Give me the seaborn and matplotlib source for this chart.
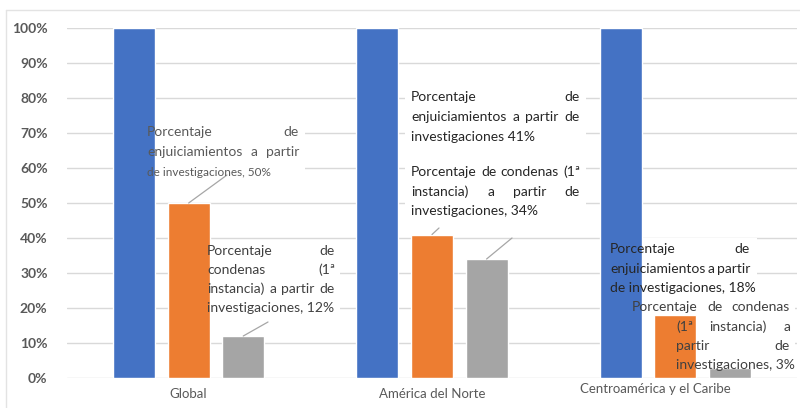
import pandas as pd
import matplotlib.pyplot as plt
import seaborn as sns
from matplotlib.transforms import ScaledTranslation

# Datos
categorias = ['Global', 'América del Norte', 'Centroamérica y el Caribe']
series = ['Investigaciones', 'Enjuiciamientos', 'Condenas']
investigaciones = [100, 100, 100]
enjuiciamientos = [50, 41, 18]
condenas = [12, 34, 3]
colores = ['#4472C4', '#ED7D31', '#A5A5A5']
yticks = [0, 10, 20, 30, 40, 50, 60, 70, 80, 90, 100]

df = pd.DataFrame({
    'Categoria': categorias * 3,
    'Serie': [s for s in series for _ in categorias],
    'Valor': [v / 100 for v in investigaciones + enjuiciamientos + condenas],
})

W, H = 800, 408
sns.set_style('white')
plt.rcParams['font.family'] = ['Lato', 'DejaVu Sans']

fig = plt.figure(figsize=(W / 100, H / 100), dpi=100)
ax = fig.add_axes([67 / W, 30 / H, 730 / W, 350 / H])

sns.barplot(data=df, x='Categoria', y='Valor', hue='Serie', palette=colores,
            saturation=1, width=0.673, gap=0.23, legend=False, ax=ax, zorder=3)

ax.set_ylim(0, 1)
ax.set_xlim(-0.5, 2.5)
ax.set_yticks([t / 100 for t in yticks])
ax.set_yticklabels([f'{t}%' for t in yticks], fontweight='bold', color='#595959', fontsize=10)
ax.yaxis.grid(True, color='#D9D9D9', lw=1, zorder=0)
ax.set_axisbelow(True)
ax.tick_params(axis='both', length=0)
ax.tick_params(axis='y', pad=14)
ax.tick_params(axis='x', pad=7, labelsize=9.5, labelcolor='#595959')
ax.set_xlabel('')
ax.set_ylabel('')
sns.despine(ax=ax, left=True, bottom=True)
lbl = ax.get_xticklabels()[2]
lbl.set_transform(lbl.get_transform() + ScaledTranslation(-20 / 100, 5 / 100, fig.dpi_scale_trans))

# Cajas blancas detras de las barras
cajas = [(140, 122, 305, 182), (200, 240, 340, 318), (405, 86, 586, 148),
         (405, 160, 586, 222), (603, 238, 757, 298), (625, 297, 795, 373)]
for x0, y0, x1, y1 in cajas:
    ax.add_patch(plt.Rectangle((x0, H - y1), x1 - x0, y1 - y0, transform=None,
                               fc='white', ec='none', zorder=1))

renderer = fig.canvas.get_renderer()


def justificado(lineas, xs, x1, ys, size=10, color='#404040', ultima=None):
    for i, (linea, x0, y) in enumerate(zip(lineas, xs, ys)):
        palabras = linea.split()
        if i == len(lineas) - 1 or len(palabras) == 1:
            fig.text(x0 / W, 1 - y / H, linea, va='center', ha='left',
                     fontsize=ultima or size, color=color, zorder=5)
            continue
        objs = [fig.text(0, 0, p, fontsize=size) for p in palabras]
        anchos = [o.get_window_extent(renderer).width for o in objs]
        for o in objs:
            o.remove()
        hueco = (x1 - x0 - sum(anchos)) / (len(palabras) - 1)
        x = x0
        for p, a in zip(palabras, anchos):
            fig.text(x / W, 1 - y / H, p, va='center', ha='left',
                     fontsize=size, color=color, zorder=5)
            x += a + hueco


justificado(['Porcentaje de', 'enjuiciamientos a partir', 'de investigaciones, 50%'],
            [147, 147, 147], 299, [132, 152, 172], color='#595959', ultima=8.5)
justificado(['Porcentaje de', 'condenas (1ª', 'instancia) a partir de', 'investigaciones, 12%'],
            [207, 207, 207, 207], 335, [251, 270, 289, 308])
justificado(['Porcentaje de', 'enjuiciamientos a partir de', 'investigaciones 41%'],
            [411, 411, 411], 580, [97, 117, 137], color='#262626')
justificado(['Porcentaje de condenas (1ª', 'instancia) a partir de', 'investigaciones, 34%'],
            [411, 411, 411], 580, [172, 192, 211], color='#262626')
justificado(['Porcentaje de', 'enjuiciamientos a partir', 'de investigaciones, 18%'],
            [610, 610, 610], 750, [249, 269, 288], color='#262626')
justificado(['Porcentaje de condenas', '(1ª instancia) a', 'partir de', 'investigaciones, 3%'],
            [632, 676, 676, 676], 790, [307, 327, 346, 365])

# Lineas guia
guias = [(1, 0, 227, 175), (2, 0, 268, 322), (1, 1, 439, 228), (2, 1, 512, 238)]
for serie, cat, px, py in guias:
    barra = ax.containers[serie][cat]
    xb = barra.get_x() + barra.get_width() / 2
    ax.annotate('', xy=(xb, barra.get_height()), xycoords='data',
                xytext=(px, H - py), textcoords='figure pixels',
                arrowprops=dict(arrowstyle='-', color='#A6A6A6', lw=0.9,
                                shrinkA=0, shrinkB=0), zorder=4)

# Borde
fig.add_artist(plt.Line2D([6 / W, 1], [1 - 10 / H, 1 - 10 / H], color='#E3E3E3', lw=1))
fig.add_artist(plt.Line2D([6 / W, 6 / W], [0, 1 - 10 / H], color='#E3E3E3', lw=1))

plt.savefig('out.png', dpi=100)
